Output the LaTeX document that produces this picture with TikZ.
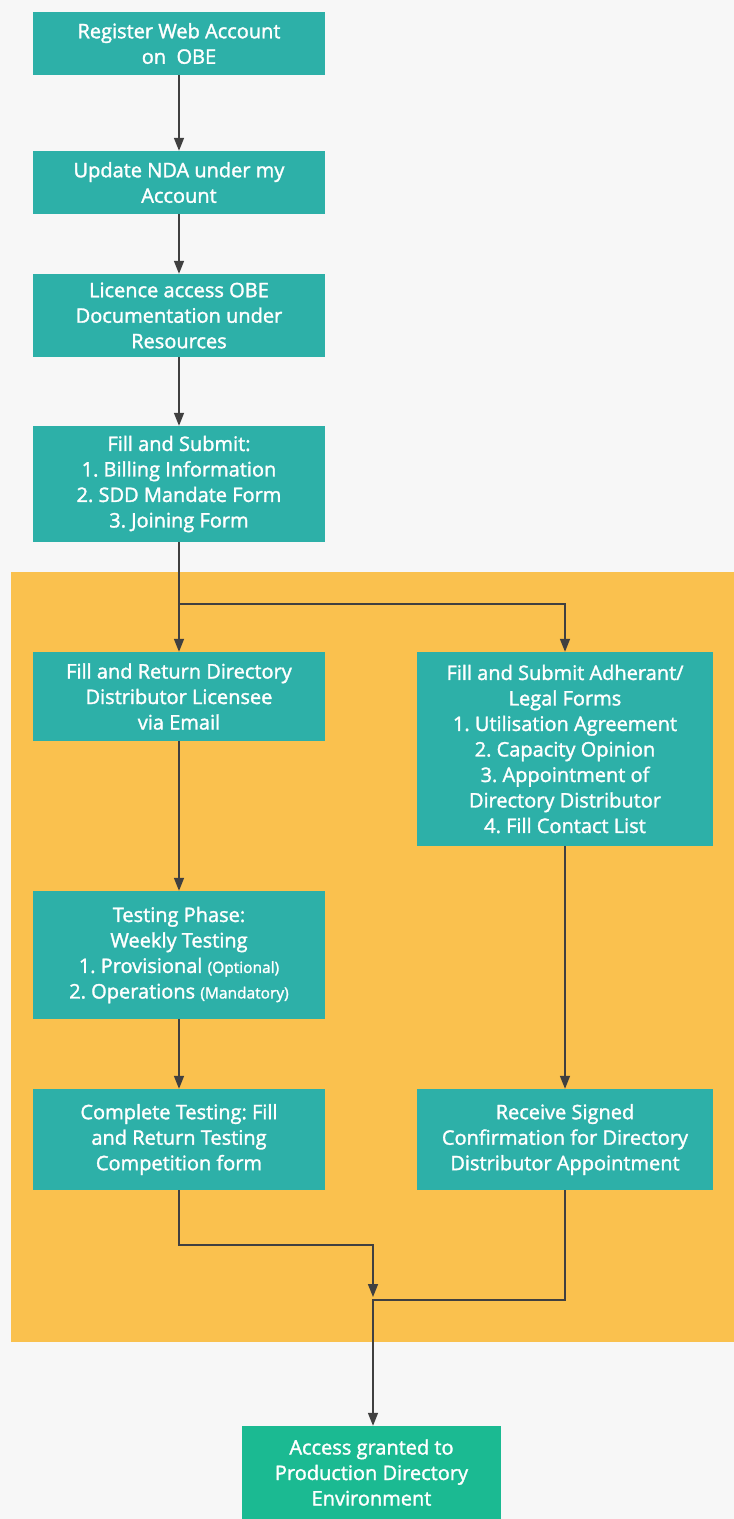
\documentclass[tikz,border=0pt]{standalone}
\usepackage{fontspec}
\newfontfamily\boxfont{Open Sans}[FakeBold=1.6]
\usetikzlibrary{arrows.meta}

\definecolor{pagebg}{HTML}{F7F7F7}
\definecolor{phasebg}{HTML}{FAC14E}
\definecolor{stepteal}{HTML}{2DB0A8}
\definecolor{finalgreen}{HTML}{1BBA92}
\definecolor{linegrey}{HTML}{404040}

\tikzset{
	stepbox/.style={rectangle, fill=stepteal, text=white, align=center, inner sep=0pt,
		minimum width=292pt, font=\boxfont\frenchspacing\fontsize{20}{25.5}\selectfont},
	flow/.style={draw=linegrey, line width=1.5pt, -{Triangle[length=13pt,width=10pt]}}
}

\begin{document}
\begin{tikzpicture}[x=1pt,y=-1pt]

	\fill[pagebg] (0,0) rectangle (734,1519);
	\fill[phasebg] (11,572) rectangle (734,1342);

	\node[stepbox, minimum height=63pt] (register) at (179,43.5) {Register Web Account\\on\ \ OBE};
	\node[stepbox, minimum height=63pt] (nda) at (179,182.5) {Update NDA under my\\Account};
	\node[stepbox, minimum height=83pt] (licence) at (179,315.5) {Licence access OBE\\Documentation under\\Resources};
	\node[stepbox, minimum height=116pt] (submit) at (179,484) {Fill and Submit:\\1. Billing Information\\2. SDD Mandate Form\\3. Joining Form};

	\node[stepbox, minimum height=89pt] (licensee) at (179,696.5) {Fill and Return Directory\\Distributor Licensee\\via Email};
	\node[stepbox, minimum width=296pt, minimum height=194pt] (legal) at (565,749) {Fill and Submit Adherant/\\Legal Forms\\1. Utilisation Agreement\\2. Capacity Opinion\\3. Appointment of\\Directory Distributor\\4. Fill Contact List};
	\node[stepbox, minimum height=128pt] (testing) at (179,955) {Testing Phase:\\Weekly Testing\\1. Provisional {\fontsize{15.5}{25.5}\selectfont(Optional)}\\2. Operations {\fontsize{15.5}{25.5}\selectfont(Mandatory)}};
	\node[stepbox, minimum height=101pt] (complete) at (179,1139.5) {Complete Testing: Fill\\and Return Testing\\Competition form};
	\node[stepbox, minimum width=296pt, minimum height=101pt] (signed) at (565,1139.5) {Receive Signed\\Confirmation for Directory\\Distributor Appointment};

	\node[stepbox, fill=finalgreen, minimum width=259pt, minimum height=93pt] (access) at (371.5,1472.5) {Access granted to\\Production Directory\\Environment};

	\coordinate (split) at (179,604);
	\coordinate (jointop) at (373,1297);

	% main column
	\draw[flow] (register) -- (nda);
	\draw[flow] (nda) -- (licence);
	\draw[flow] (licence) -- (submit);
	\draw[flow] (submit) -- (licensee);
	\draw[flow] (split) -| (legal.north);
	\draw[flow] (licensee) -- (testing);
	\draw[flow] (testing) -- (complete);
	\draw[flow] (legal) -- (signed);

	% merge
	\draw[flow] (complete.south) -- ++(0,55) -| (jointop);
	\draw[flow] (signed.south) -- ++(0,110) -| (jointop |- access.north);

\end{tikzpicture}
\end{document}
